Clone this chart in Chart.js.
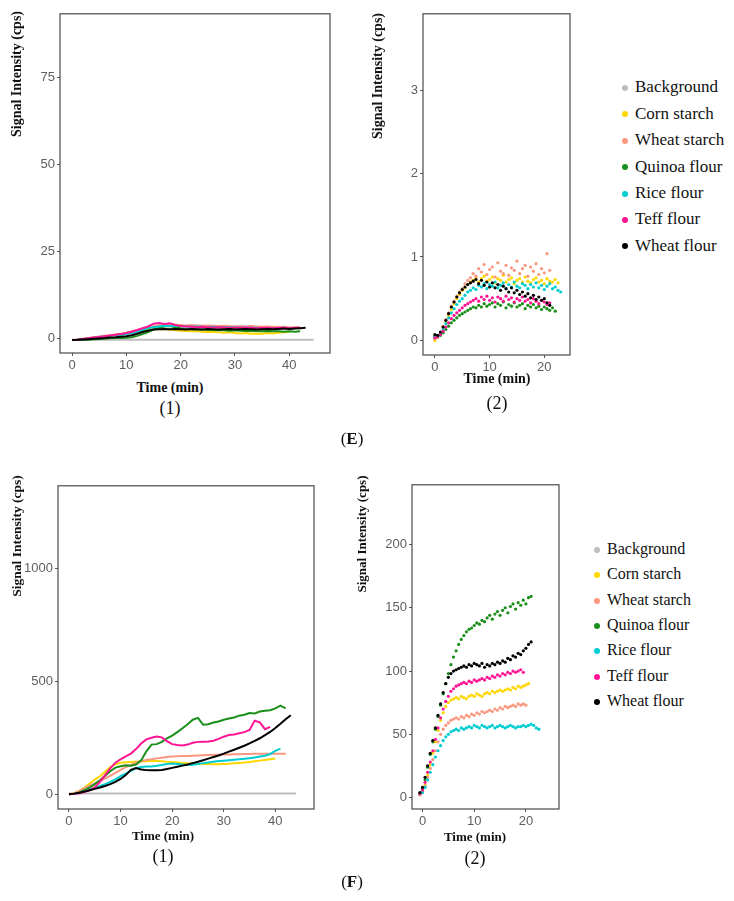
<!DOCTYPE html>
<html>
<head>
<meta charset="utf-8">
<script src="https://cdn.jsdelivr.net/npm/chart.js@4.4.1/dist/chart.umd.min.js"></script>
<style>
  body { margin: 0; background: #fff; }
  #page { position: relative; width: 734px; height: 901px; overflow: hidden; background: #fff; }
  canvas { position: absolute; }
  .t { position: absolute; white-space: nowrap; color: #111; font-family: "Liberation Serif", "Times New Roman", serif; transform: translate(-50%, -50%); }
  .ytitle { font-weight: bold; transform: translate(-50%, -50%) rotate(-90deg); }
  .xtitle { font-weight: bold; }
  .leg { position: absolute; font-family: "Liberation Serif", "Times New Roman", serif; color: #111; white-space: nowrap; }
  .dot { position: absolute; border-radius: 50%; }
</style>
</head>
<body>
<div id="page"></div>
<script>
// series (same order in every panel)
const seriesNames = ['Background', 'Corn starch', 'Wheat starch', 'Quinoa flour', 'Rice flour', 'Teff flour', 'Wheat flour'];
const seriesColors = ['#bebebe', '#ffd700', '#f9977f', '#1a8f1a', '#00cdd0', '#ff1493', '#000000'];

// ---- panel E(1): time 0..43 min, lines
const e1Time = [0,1,2,3,4,5,6,7,8,9,10,11,12,13,14,15,16,17,18,19,20,21,22,23,24,25,26,27,28,29,30,31,32,33,34,35,36,37,38,39,40,41,42,43];
const e1BgTime = [0, 44.5];
const e1Background = [-0.4, -0.4];
const e1Corn = [-0.5,-0.4,-0.2,0,0.2,0.4,0.6,0.8,1.0,1.2,1.4,1.7,2.0,2.3,2.5,2.6,2.7,2.6,2.5,2.3,2.2,2.1,2.0,2.1,1.9,1.8,1.9,1.7,1.6,1.7,1.5,1.4,1.5,1.3,1.4,1.3,1.5,1.4,1.6,1.7,1.8];
const e1WheatStarch = [-0.5,-0.35,-0.1,0.1,0.3,0.5,0.7,0.9,1.1,1.3,1.6,2.0,2.4,2.8,3.2,3.5,3.7,3.8,3.8,3.9,3.8,3.7,3.8,3.7,3.6,3.7,3.6,3.5,3.6,3.5,3.4,3.5,3.4,3.5,3.4,3.3,3.4,3.3,3.2,3.3,3.2,3.1,3.2];
const e1Quinoa = [-0.5,-0.5,-0.45,-0.4,-0.3,-0.2,-0.1,0,0.05,0.1,0.15,0.3,0.7,1.2,1.8,2.5,3.0,3.4,3.5,3.2,2.9,2.7,2.6,2.5,2.5,2.4,2.4,2.3,2.3,2.2,2.3,2.2,2.1,2.2,2.1,2.0,2.1,2.0,2.0,1.9,2.0,1.9,2.0];
const e1Rice = [-0.5,-0.4,-0.25,-0.05,0.15,0.35,0.5,0.7,0.85,1.0,1.2,1.5,1.9,2.4,2.9,3.2,3.4,3.6,3.5,3.6,3.5,3.4,3.3,3.4,3.3,3.2,3.3,3.2,3.1,3.2,3.1,3.0,3.1,3.0,3.0,2.9,3.0,2.9,2.9,3.0,2.9,2.8];
const e1Teff = [-0.5,-0.4,-0.2,0,0.2,0.4,0.6,0.8,1.0,1.2,1.5,1.9,2.4,2.9,3.4,4.2,4.4,4.1,4.3,3.8,3.5,3.4,3.3,3.2,3.3,3.2,3.1,3.2,3.1,3.0,3.1,3.0,3.1,3.0,2.9,3.0,3.0,2.9,3.0,3.0,2.9,3.0,3.0];
const e1WheatFlour = [-0.5,-0.45,-0.35,-0.25,-0.15,-0.05,0.05,0.2,0.3,0.45,0.6,0.9,1.3,1.8,2.2,2.5,2.6,2.7,2.6,2.7,2.6,2.5,2.7,2.6,2.5,2.7,2.6,2.5,2.6,2.7,2.5,2.6,2.7,2.6,2.5,2.6,2.7,2.6,2.7,2.8,2.7,2.8,2.9,3.0];
const e1XTicks = [0, 10, 20, 30, 40];
const e1YTicks = [0, 25, 50, 75];

// ---- panel E(2): time 0..23 min every 0.5 min, points
const e2Time = [0,0.5,1,1.5,2,2.5,3,3.5,4,4.5,5,5.5,6,6.5,7,7.5,8,8.5,9,9.5,10,10.5,11,11.5,12,12.5,13,13.5,14,14.5,15,15.5,16,16.5,17,17.5,18,18.5,19,19.5,20,20.5,21,21.5,22,22.5,23];
const e2Background = [];
const e2Corn = [0.0,0.04,0.08,0.15,0.22,0.3,0.37,0.44,0.5,0.55,0.6,0.63,0.67,0.7,0.72,0.75,0.7,0.74,0.77,0.71,0.73,0.76,0.69,0.74,0.72,0.78,0.7,0.73,0.75,0.68,0.72,0.74,0.7,0.76,0.71,0.69,0.73,0.75,0.7,0.72,0.68,0.74,0.71,0.7,0.73,0.69];
const e2WheatStarch = [0.02,0.05,0.09,0.17,0.25,0.33,0.41,0.47,0.53,0.58,0.62,0.68,0.72,0.75,0.8,0.77,0.86,0.82,0.91,0.79,0.85,0.88,0.76,0.93,0.83,0.8,0.9,0.78,0.87,0.84,0.95,0.8,0.86,0.9,0.77,0.88,0.83,0.92,0.79,0.86,0.81,1.04,0.84];
const e2Quinoa = [0.05,0.04,0.06,0.09,0.13,0.17,0.21,0.24,0.27,0.3,0.32,0.34,0.36,0.38,0.4,0.39,0.42,0.4,0.44,0.41,0.43,0.45,0.4,0.44,0.42,0.46,0.39,0.43,0.41,0.45,0.4,0.42,0.44,0.38,0.42,0.4,0.43,0.39,0.41,0.37,0.4,0.38,0.36,0.39,0.35];
const e2Rice = [0.04,0.05,0.08,0.13,0.2,0.27,0.33,0.38,0.43,0.47,0.5,0.54,0.58,0.6,0.63,0.61,0.66,0.64,0.68,0.62,0.67,0.65,0.7,0.63,0.66,0.69,0.62,0.67,0.64,0.7,0.65,0.63,0.68,0.66,0.62,0.67,0.64,0.69,0.63,0.66,0.61,0.65,0.68,0.62,0.64,0.6,0.58];
const e2Teff = [0.03,0.04,0.07,0.11,0.16,0.21,0.26,0.3,0.33,0.36,0.39,0.42,0.44,0.46,0.48,0.5,0.47,0.52,0.49,0.53,0.48,0.51,0.46,0.52,0.5,0.47,0.53,0.49,0.51,0.46,0.5,0.48,0.52,0.47,0.49,0.45,0.5,0.47,0.44,0.48,0.46,0.43,0.45];
const e2WheatFlour = [0.07,0.06,0.1,0.16,0.24,0.32,0.4,0.46,0.52,0.57,0.61,0.64,0.67,0.69,0.71,0.73,0.68,0.72,0.66,0.7,0.64,0.69,0.63,0.67,0.6,0.65,0.62,0.58,0.63,0.57,0.6,0.55,0.58,0.53,0.56,0.51,0.54,0.49,0.52,0.48,0.5,0.45,0.42];
const e2XTicks = [0, 10, 20];
const e2YTicks = [0, 1, 2, 3];

// ---- panel F(1): time 0..43 min, lines
const f1Time = e1Time;
const f1BgTime = [0, 44];
const f1Background = [4, 4];
const f1Corn = [0,5,15,30,48,65,80,100,120,133,140,142,143,144,145,146,147,147,146,144,143,141,139,137,136,135,134,134,133,133,134,135,137,139,141,143,146,149,152,155,158];
const f1WheatStarch = [0,5,15,27,38,48,58,70,82,95,108,120,130,140,147,152,155,159,162,165,167,168,169,170,171,172,173,174,175,175,176,176,177,177,178,178,179,179,179,180,179,180,180];
const f1Quinoa = [0,3,8,18,30,45,62,82,102,118,124,128,126,132,150,190,220,222,232,248,260,275,292,310,330,338,308,310,318,322,330,335,340,348,352,360,358,366,370,372,380,392,380];
const f1Rice = [0,2,6,12,20,28,37,45,55,66,80,92,104,115,121,123,123,126,130,134,136,134,132,130,131,134,138,141,144,147,149,151,153,155,157,160,163,167,171,178,192,202];
const f1Teff = [0,2,5,10,18,30,55,85,115,140,155,168,180,200,225,243,250,256,252,235,222,218,216,220,228,232,233,234,237,245,255,262,265,270,275,285,326,318,288,298];
const f1WheatFlour = [0,3,7,12,18,24,30,37,45,55,68,85,108,116,110,107,106,106,108,112,117,122,127,132,138,144,151,158,165,172,180,189,197,206,215,225,236,248,262,276,293,312,332,350];
const f1XTicks = [0, 10, 20, 30, 40];
const f1YTicks = [0, 500, 1000];

// ---- panel F(2): time -0.5..22.5 min every 0.5 min, points
const f2Time = [-0.5,0,0.5,1,1.5,2,2.5,3,3.5,4,4.5,5,5.5,6,6.5,7,7.5,8,8.5,9,9.5,10,10.5,11,11.5,12,12.5,13,13.5,14,14.5,15,15.5,16,16.5,17,17.5,18,18.5,19,19.5,20,20.5,21,21.5,22,22.5];
const f2Background = [];
const f2Corn = [3,5,10,18,26,35,44,53,61,67,72,75,77,78,79,78,80,79,78,80,81,80,82,81,80,82,83,82,84,83,84,85,84,85,86,85,87,86,88,87,88,89,90];
const f2WheatStarch = [2,4,9,16,23,30,37,44,50,54,57,59,61,62,63,62,64,63,65,64,66,65,67,66,68,67,68,69,68,70,69,71,70,72,71,72,73,72,74,73,74,73];
const f2Quinoa = [3,6,14,24,34,44,54,64,73,82,90,98,105,111,116,121,125,128,131,133,134,136,138,137,140,139,142,144,141,145,147,144,148,150,146,151,153,149,154,152,156,153,158,159];
const f2Rice = [3,4,8,14,20,26,32,37,41,45,48,50,52,53,54,53,55,54,55,56,55,57,56,55,57,56,55,56,57,55,56,57,56,55,56,57,56,55,56,56,57,56,57,58,57,55,54];
const f2Teff = [3,6,12,20,28,37,46,55,63,70,76,80,84,86,88,89,90,91,90,92,91,93,92,93,94,93,95,94,96,95,97,96,98,97,99,98,100,99,100,101,99];
const f2WheatFlour = [4,8,16,25,35,45,55,65,74,83,90,95,98,100,101,102,103,104,103,105,104,106,105,104,106,103,105,104,106,105,107,106,108,107,110,109,112,111,114,113,116,118,121,123];
const f2XTicks = [0, 10, 20];
const f2YTicks = [0, 50, 100, 150, 200];

// ---------------------------------------------------------------
const page = document.getElementById('page');
const YW = 48, XH = 26, PAD = 3;

const framePlugin = {
    id: 'frame',
    afterDraw(chart) {
        const { ctx, chartArea: a } = chart;
        ctx.save();
        ctx.strokeStyle = '#4a4a4a';
        ctx.lineWidth = 1.2;
        ctx.strokeRect(a.left, a.top, a.right - a.left, a.bottom - a.top);
        ctx.restore();
    }
};

function pts(times, vals) {
    return vals.map((v, i) => ({ x: times[i], y: v }));
}

function axis(min, max, ticks, afterFit) {
    return {
        type: 'linear', min: min, max: max,
        afterBuildTicks: s => { s.ticks = ticks.map(v => ({ value: v })); },
        afterFit: afterFit,
        grid: { display: true, drawOnChartArea: false, drawTicks: true, tickLength: 3, color: '#555' },
        border: { display: false },
        ticks: {
            color: '#5e5e5e', padding: 2,
            font: { family: 'Liberation Sans, Arial, sans-serif', size: 13 },
            callback: v => String(v)
        }
    };
}

function makePanel(box, xr, yr, xTicks, yTicks, seriesData, asPoints) {
    const c = document.createElement('canvas');
    const w = Math.round(box.r - box.l) + YW + PAD;
    const h = Math.round(box.b - box.t) + PAD + XH;
    c.width = w; c.height = h;
    c.style.left = (box.l - YW) + 'px';
    c.style.top = (box.t - PAD) + 'px';
    c.style.width = w + 'px'; c.style.height = h + 'px';
    page.appendChild(c);

    const datasets = seriesData.map((d, i) => ({
        label: seriesNames[i],
        data: pts(d[0], d[1]),
        borderColor: seriesColors[i],
        backgroundColor: seriesColors[i],
        showLine: !asPoints,
        borderWidth: asPoints ? 0 : 2,
        pointRadius: asPoints ? 1.6 : 0,
        pointBorderWidth: 0,
        order: seriesNames.length - i
    }));

    new Chart(c.getContext('2d'), {
        type: 'scatter',
        data: { datasets: datasets },
        options: {
            responsive: false,
            animation: false,
            devicePixelRatio: 1,
            layout: { padding: { left: 0, top: PAD, right: PAD, bottom: 0 } },
            plugins: { legend: { display: false }, tooltip: { enabled: false } },
            scales: {
                x: axis(xr[0], xr[1], xTicks, s => { s.height = XH; }),
                y: axis(yr[0], yr[1], yTicks, s => { s.width = YW; })
            }
        },
        plugins: [framePlugin]
    });
}

function text(html, x, y, size, cls) {
    const d = document.createElement('div');
    d.className = 't ' + (cls || '');
    d.style.left = x + 'px';
    d.style.top = y + 'px';
    d.style.fontSize = size + 'px';
    d.innerHTML = html;
    page.appendChild(d);
}

function legend(dotX, textX, y0, step, size) {
    seriesNames.forEach((name, i) => {
        const y = y0 + i * step;
        const dot = document.createElement('div');
        dot.className = 'dot';
        dot.style.left = (dotX - 3) + 'px';
        dot.style.top = (y - 3) + 'px';
        dot.style.width = '6px'; dot.style.height = '6px';
        dot.style.background = seriesColors[i];
        page.appendChild(dot);
        const t = document.createElement('div');
        t.className = 'leg';
        t.style.left = textX + 'px';
        t.style.top = (y - size * 0.62) + 'px';
        t.style.fontSize = size + 'px';
        t.textContent = name;
        page.appendChild(t);
    });
}

// E(1)
makePanel({ l: 60, t: 7, r: 330, b: 353 }, [-2.21, 47.49], [-4.23, 93.3], e1XTicks, e1YTicks, [
    [e1BgTime, e1Background], [e1Time, e1Corn], [e1Time, e1WheatStarch], [e1Time, e1Quinoa],
    [e1Time, e1Rice], [e1Time, e1Teff], [e1Time, e1WheatFlour]
], false);
// E(2)
makePanel({ l: 423, t: 7, r: 571, b: 355 }, [-2.18, 24.7], [-0.176, 3.918], e2XTicks, e2YTicks, [
    [e2Time, e2Background], [e2Time, e2Corn], [e2Time, e2WheatStarch], [e2Time, e2Quinoa],
    [e2Time, e2Rice], [e2Time, e2Teff], [e2Time, e2WheatFlour]
], true);
// F(1)
makePanel({ l: 58, t: 479, r: 314, b: 809 }, [-2.13, 47.5], [-65, 1365], f1XTicks, f1YTicks, [
    [f1BgTime, f1Background], [f1Time, f1Corn], [f1Time, f1WheatStarch], [f1Time, f1Quinoa],
    [f1Time, f1Rice], [f1Time, f1Teff], [f1Time, f1WheatFlour]
], false);
// F(2)
makePanel({ l: 412, t: 478, r: 560, b: 809 }, [-2.03, 26.4], [-9.06, 247.2], f2XTicks, f2YTicks, [
    [f2Time, f2Background], [f2Time, f2Corn], [f2Time, f2WheatStarch], [f2Time, f2Quinoa],
    [f2Time, f2Rice], [f2Time, f2Teff], [f2Time, f2WheatFlour]
], true);

// axis titles and captions
text('Signal Intensity (cps)', 17, 74, 14, 'ytitle');
text('Signal Intensity (cps)', 378, 76, 14, 'ytitle');
text('Signal Intensity (cps)', 17, 536, 13.5, 'ytitle');
text('Signal Intensity (cps)', 362, 534, 13, 'ytitle');
text('Time (min)', 170, 388, 14, 'xtitle');
text('Time (min)', 497, 379, 14, 'xtitle');
text('Time (min)', 163, 836, 13, 'xtitle');
text('Time (min)', 475, 837, 13, 'xtitle');
text('(1)', 170, 408, 18);
text('(2)', 497, 403, 18);
text('(1)', 163, 856, 18);
text('(2)', 475, 858, 18);
text('(<b>E</b>)', 352, 439, 17);
text('(<b>F</b>)', 352, 882, 17);

legend(625, 635, 88, 26.4, 17);
legend(597, 607, 550, 25.3, 16);
</script>
</body>
</html>
